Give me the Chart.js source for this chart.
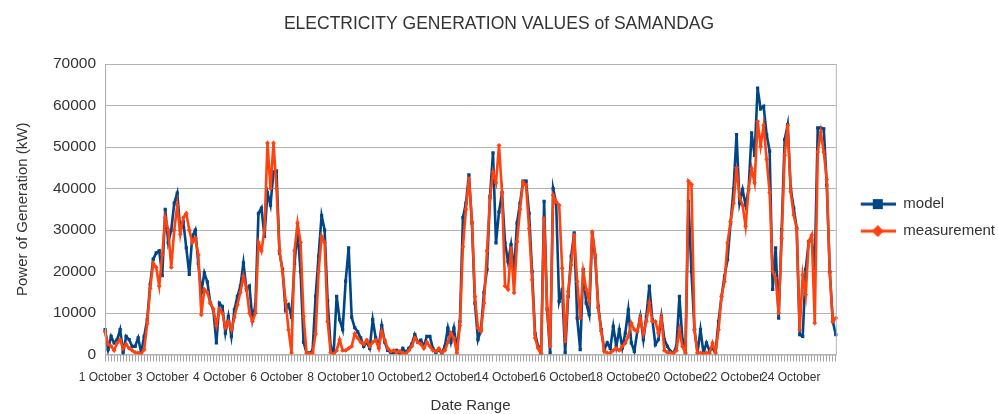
<!DOCTYPE html>
<html>
<head>
<meta charset="utf-8">
<script src="https://cdn.jsdelivr.net/npm/chart.js@4.4.1/dist/chart.umd.min.js"></script>
<style>
  html, body { margin: 0; padding: 0; background: #fff; }
  #wrap { width: 998px; height: 414px; }
</style>
</head>
<body>
<div id="wrap"><canvas id="genChart" width="998" height="414"></canvas></div>
<script>
// Axis labels shown every 19 samples
const dateLabels = ['1 October', '3 October', '4 October', '6 October', '8 October', '10 October',
    '12 October', '14 October', '16 October', '18 October', '20 October', '22 October', '24 October'];
const labelStep = 19;

// model (kW)
const modelValues = [
    6000, 1200, 4400, 2800, 3600, 6000, 400, 4400, 3600, 2000,
    2000, 4000, 500, 4400, 8400, 17000, 23000, 24500, 25000, 19000,
    35000, 27000, 30000, 36500, 38900, 30000, 32000, 25700, 19300, 28500,
    30000, 22000, 15000, 19700, 17500, 12400, 10800, 2800, 12400, 11600,
    5200, 9200, 4400, 10800, 14000, 16500, 22100, 15700, 16500, 8400,
    12000, 34000, 35300, 28500, 39000, 36000, 44000, 44200, 24500, 20500,
    10800, 12000, 9000, 22000, 30000, 20000, 3000, 400, 400, 1000,
    14000, 23700, 33500, 30000, 13000, 2000, 200, 14000, 8400, 6000,
    17700, 25700, 9000, 6500, 5500, 4000, 2000, 3000, 1500, 8400,
    4000, 2000, 7000, 3000, 1000, 500, 500, 1000, 300, 1500,
    500, 1500, 2500, 4800, 3000, 3500, 2000, 4400, 4400, 1500,
    500, 1200, 300, 2000, 6400, 3000, 6400, 1200, 8000, 33000,
    36500, 43300, 31700, 12400, 3600, 6000, 15000, 20500, 38100, 48600,
    26900, 34400, 39000, 26900, 22400, 26500, 20000, 31700, 36500, 41800,
    41800, 34000, 20000, 5000, 2000, 0, 36900, 10800, 400, 40000,
    36500, 12800, 15600, 400, 14000, 23700, 29300, 8800, 1200, 20500,
    12400, 9600, 29300, 23300, 11600, 6000, 1200, 2800, 1500, 6800,
    2000, 6000, 1600, 5200, 10800, 2800, 800, 5600, 9200, 3600,
    9200, 16500, 8400, 2400, 3600, 9200, 3600, 2000, 800, 400,
    2000, 14000, 3600, 400, 36900, 20000, 6000, 400, 6000, 400,
    2800, 1000, 1500, 400, 8000, 14000, 18900, 22900, 31700, 40000,
    53000, 36500, 39800, 36000, 39800, 53400, 48000, 64200, 59200, 59800,
    53000, 49000, 15700, 25700, 8800, 30100, 51800, 55400, 40000, 35300,
    30400, 4800, 4400, 20500, 27300, 27700, 20800, 54600, 54600, 54400,
    40800, 20000, 8000, 4800
];

// measurement (kW)
const measurementValues = [
    5500, 2500, 2000, 1000, 2800, 3600, 1500, 2500, 1500, 1000,
    500, 400, 200, 1200, 7500, 16000, 22000, 21000, 16500, 24000,
    33000, 30000, 21000, 30000, 36000, 29000, 33000, 34000, 30000, 27000,
    28000, 24000, 9600, 15700, 15000, 12400, 11000, 7000, 11000, 10000,
    6500, 8000, 6000, 9000, 12000, 15000, 18900, 16000, 10000, 8000,
    10000, 27000, 25000, 30000, 51000, 40000, 51000, 40000, 25000, 20000,
    13000, 6000, 400, 25000, 31700, 27000, 9200, 400, 200, 300,
    5000, 20000, 28500, 27000, 8000, 500, 0, 1000, 3600, 1000,
    1000, 1500, 2000, 5000, 4000, 3000, 2500, 3500, 2000, 3000,
    3500, 1500, 5600, 3500, 1500, 800, 1000, 500, 800, 300,
    200, 1000, 2000, 4000, 3000, 2500, 1500, 3000, 2000, 1000,
    800, 1500, 500, 1000, 3000, 5200, 4000, 400, 7000, 26000,
    35000, 42400, 32000, 14000, 6400, 5600, 12400, 25000, 37600, 44000,
    41400, 50400, 39000, 16500, 15700, 25600, 14900, 27200, 35000, 41600,
    40800, 30400, 18000, 4000, 1500, 200, 32800, 11200, 2000, 38400,
    36800, 36000, 20800, 3200, 15200, 21600, 28800, 17600, 8800, 20000,
    15700, 12800, 29600, 24000, 11200, 5600, 800, 400, 400, 1000,
    1500, 1000, 2000, 2800, 4400, 7600, 6000, 5600, 8800, 5000,
    8000, 12400, 8000, 8000, 5200, 8800, 1000, 500, 400, 300,
    1000, 6000, 2000, 400, 41800, 41000, 6000, 400, 400, 200,
    400, 300, 2800, 400, 6000, 14000, 17600, 26900, 32000, 36500,
    45000, 38000, 36000, 30900, 40000, 44800, 41400, 56200, 50200, 55200,
    47000, 39000, 20000, 18400, 10000, 28000, 48000, 55200, 39200, 33600,
    30400, 6000, 19200, 14400, 27200, 28800, 7600, 48800, 53600, 48800,
    42200, 19700, 8000, 8800
];

const categories = modelValues.map((v, i) => i % labelStep === 0 ? (dateLabels[i / labelStep] || '') : '');

const BLUE = '#004586';
const ORANGE = '#ff420e';
const FONT = "'Liberation Sans', Arial, sans-serif";

// line+marker icon for the legend (left part kept blank as spacing)
function legendIcon(color, shape) {
    const c = document.createElement('canvas');
    c.width = 48; c.height = 12;
    const g = c.getContext('2d');
    g.strokeStyle = color; g.fillStyle = color; g.lineWidth = 3;
    g.beginPath(); g.moveTo(13, 6); g.lineTo(48, 6); g.stroke();
    g.beginPath();
    if (shape === 'rect') {
        g.rect(25, 1, 10, 10);
    } else {
        g.moveTo(30, 0); g.lineTo(36, 6); g.lineTo(30, 12); g.lineTo(24, 6); g.closePath();
    }
    g.fill();
    return c;
}

const areaBorder = {
    id: 'areaBorder',
    afterDraw(chart) {
        const { ctx, chartArea: a } = chart;
        ctx.save();
        ctx.strokeStyle = '#b3b3b3';
        ctx.lineWidth = 1;
        ctx.strokeRect(a.left + 0.5, a.top + 0.5, a.right - a.left, a.bottom - a.top);
        ctx.restore();
    }
};

const ctx = document.getElementById('genChart').getContext('2d');
new Chart(ctx, {
    type: 'line',
    data: {
        labels: categories,
        datasets: [
            { label: 'model', data: modelValues, borderColor: BLUE, backgroundColor: BLUE,
              borderWidth: 2.6, pointStyle: 'rect', pointRadius: 2.3, pointBorderWidth: 0, order: 2 },
            { label: 'measurement', data: measurementValues, borderColor: ORANGE, backgroundColor: ORANGE,
              borderWidth: 2.6, pointStyle: 'rectRot', pointRadius: 2.4, pointBorderWidth: 0, order: 1 }
        ]
    },
    options: {
        responsive: false,
        animation: false,
        layout: { padding: { left: -7, right: -7, top: 4, bottom: -1 } },
        elements: { line: { tension: 0 } },
        plugins: {
            title: {
                display: true,
                text: 'ELECTRICITY GENERATION VALUES of SAMANDAG',
                color: '#333',
                font: { family: FONT, size: 17.5, weight: 'normal' },
                padding: { top: 10, bottom: 29 }
            },
            legend: {
                position: 'right',
                title: { display: true, text: '', font: { size: 1 }, padding: { top: 0, bottom: 15 } },
                labels: {
                    usePointStyle: true,
                    pointStyleWidth: 48,
                    color: '#333',
                    font: { family: FONT, size: 15 },
                    padding: 12,
                    generateLabels: chart => chart.data.datasets.map((ds, i) => ({
                        text: ds.label,
                        pointStyle: legendIcon(ds.borderColor, ds.pointStyle),
                        fontColor: '#333',
                        lineWidth: 0,
                        strokeStyle: 'transparent',
                        fillStyle: 'transparent',
                        datasetIndex: i
                    }))
                }
            },
            tooltip: { enabled: false }
        },
        scales: {
            x: {
                grid: { drawOnChartArea: false, color: '#a6a6a6', tickColor: '#a6a6a6', tickWidth: 1, tickLength: 7 },
                border: { color: '#b3b3b3' },
                ticks: {
                    autoSkip: false, maxRotation: 0, minRotation: 0,
                    color: '#333', font: { family: FONT, size: 12 }, padding: 8.5
                },
                title: { display: true, text: 'Date Range', color: '#333',
                    font: { family: FONT, size: 15 }, padding: { top: 4, bottom: 0 } }
            },
            y: {
                min: 0, max: 70000,
                grid: { color: '#b3b3b3', drawTicks: false },
                border: { color: '#b3b3b3' },
                ticks: { stepSize: 10000, color: '#333', font: { family: FONT, size: 15.5 }, padding: 9,
                    callback: v => String(v) },
                title: { display: true, text: 'Power of Generation (kW)', color: '#333',
                    font: { family: FONT, size: 15 }, padding: { top: 21, bottom: 12 } }
            }
        }
    },
    plugins: [areaBorder]
});
</script>
</body>
</html>
